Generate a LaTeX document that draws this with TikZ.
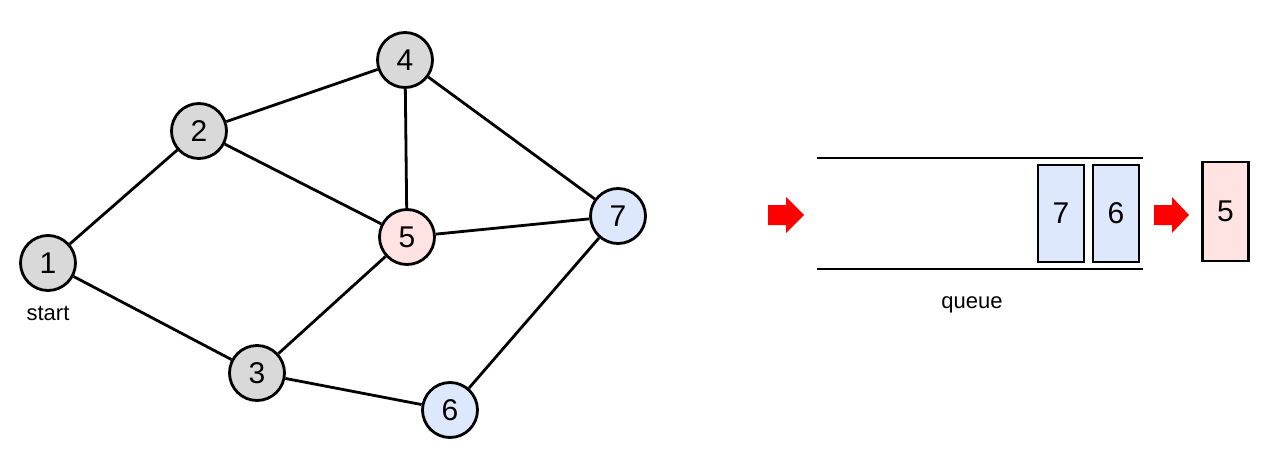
\documentclass[tikz,border=0pt]{standalone}
\usepackage{fontspec}
\setmainfont{Liberation Sans}
\definecolor{gfill}{RGB}{217,217,217}
\definecolor{bfill}{RGB}{222,232,252}
\definecolor{pfill}{RGB}{255,226,226}
\begin{document}
\begin{tikzpicture}[x=1pt,y=-1pt,
  vert/.style={circle,draw=black,line width=2.8pt,minimum size=55pt,inner sep=0pt,font=\fontsize{30}{30}\selectfont},
  gv/.style={vert,fill=gfill},
  bv/.style={vert,fill=bfill},
  pv/.style={vert,fill=pfill},
  edge/.style={line width=2.8pt},
  qbox/.style={draw=black,line width=2.8pt,minimum width=46pt,minimum height=97pt,inner sep=0pt,font=\fontsize{30}{30}\selectfont},
  lbl/.style={font=\fontsize{22}{22}\selectfont,inner sep=0pt},
  redarrow/.style={fill=red,draw=none}]
\useasboundingbox (0,0) rectangle (1271,455);
\node[gv] (n1) at (48,263) {1};
\node[gv] (n2) at (199,131) {2};
\node[gv] (n4) at (405,60) {4};
\node[pv] (n5) at (407,237) {5};
\node[bv] (n7) at (618,216) {7};
\node[gv] (n3) at (257,373) {3};
\node[bv] (n6) at (450,410) {6};
\node[lbl] (start) at (48,313) {start};
\draw[edge] (n1) -- (n2);
\draw[edge] (n1) -- (n3);
\draw[edge] (n2) -- (n4);
\draw[edge] (n2) -- (n5);
\draw[edge] (n4) -- (n5);
\draw[edge] (n4) -- (n7);
\draw[edge] (n5) -- (n7);
\draw[edge] (n5) -- (n3);
\draw[edge] (n3) -- (n6);
\draw[edge] (n6) -- (n7);
% queue
\coordinate (qtl) at (817,158);
\coordinate (qtr) at (1143,158);
\coordinate (qbl) at (817,269);
\coordinate (qbr) at (1143,269);
\draw[edge] (qtl) -- (qtr);
\draw[edge] (qbl) -- (qbr);
\node[qbox,fill=bfill] (q7) at (1061,213.5) {7};
\node[qbox,fill=bfill] (q6) at (1116,213.5) {6};
\node[qbox,fill=pfill,minimum height=99pt] (q5) at (1225.5,211.5) {5};
\node[lbl] (queue) at (972,305) {queue};
\fill[redarrow] (768,205) -- (786,205) -- (786,197) -- (804,215) -- (786,233) -- (786,225) -- (768,225) -- cycle;
\fill[redarrow] (1154,205) -- (1172,205) -- (1172,197) -- (1189,215) -- (1172,233) -- (1172,225) -- (1154,225) -- cycle;
\end{tikzpicture}
\end{document}
